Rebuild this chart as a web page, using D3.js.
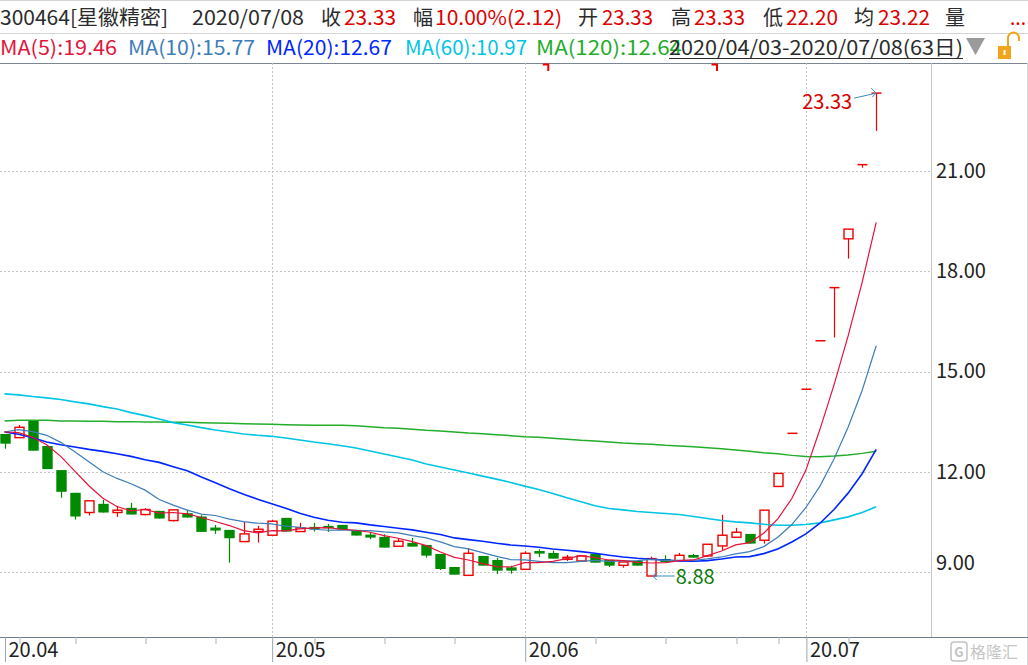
<!DOCTYPE html>
<html><head><meta charset="utf-8">
<script src="https://cdn.jsdelivr.net/npm/d3@7"></script>
<style>html,body{margin:0;padding:0;background:#fff}svg{display:block}</style>
</head><body>
<svg id="chart" width="1028" height="665"></svg>
<script>
// ---------------- DATA ----------------
const dates = [
 "2020-04-03","2020-04-07","2020-04-08","2020-04-09","2020-04-10","2020-04-13","2020-04-14","2020-04-15","2020-04-16","2020-04-17",
 "2020-04-20","2020-04-21","2020-04-22","2020-04-23","2020-04-24","2020-04-27","2020-04-28","2020-04-29","2020-04-30",
 "2020-05-06","2020-05-07","2020-05-08","2020-05-11","2020-05-12","2020-05-13","2020-05-14","2020-05-15",
 "2020-05-18","2020-05-19","2020-05-20","2020-05-21","2020-05-22","2020-05-25","2020-05-26","2020-05-27","2020-05-28","2020-05-29",
 "2020-06-01","2020-06-02","2020-06-03","2020-06-04","2020-06-05","2020-06-08","2020-06-09","2020-06-10","2020-06-11","2020-06-12",
 "2020-06-15","2020-06-16","2020-06-17","2020-06-18","2020-06-19","2020-06-22","2020-06-23","2020-06-24","2020-06-29","2020-06-30",
 "2020-07-01","2020-07-02","2020-07-03","2020-07-06","2020-07-07","2020-07-08"];
const open = [13.13,13.02,13.52,12.77,12.05,11.37,10.78,11.04,10.78,10.92,
 10.72,10.83,10.54,10.76,10.66,10.33,10.26,9.91,10.21,10.10,
 10.62,10.21,10.35,10.38,10.41,10.26,10.12,10.05,9.77,9.87,
 9.81,9.54,9.15,8.90,9.48,9.36,9.14,9.08,9.63,9.57,
 9.38,9.33,9.54,9.36,9.20,9.33,8.88,9.39,9.34,9.51,
 9.48,9.78,10.04,10.14,9.95,11.56,13.15,14.47,15.92,17.51,
 18.97,21.19,23.33];
const high = [13.13,13.40,13.52,12.80,12.05,11.37,11.13,11.16,10.98,11.07,
 10.91,10.83,10.86,10.86,10.70,10.41,10.26,10.50,10.38,10.56,
 10.62,10.47,10.47,10.44,10.41,10.26,10.20,10.13,10.01,10.02,
 9.81,9.54,9.15,9.71,9.48,9.42,9.19,9.62,9.68,9.64,
 9.51,9.51,9.54,9.36,9.30,9.33,9.46,9.50,9.57,9.54,
 9.83,10.71,10.32,10.14,10.85,11.95,13.15,14.47,15.92,17.51,
 19.26,21.19,23.33];
const low = [12.69,13.02,12.63,12.08,11.22,10.57,10.69,10.78,10.65,10.72,
 10.69,10.60,10.51,10.63,10.20,10.14,9.28,9.91,9.88,10.10,
 10.21,10.21,10.21,10.20,10.27,10.09,9.98,9.73,9.77,9.76,
 9.43,9.06,8.92,8.90,9.19,8.94,8.95,9.08,9.45,9.40,
 9.33,9.33,9.28,9.15,9.13,9.19,8.88,9.30,9.34,9.43,
 9.45,9.66,10.04,9.85,9.85,11.56,13.15,14.47,15.92,16.02,
 18.38,21.10,22.20];
const close = [12.84,13.33,12.63,12.08,11.40,10.66,11.13,10.78,10.85,10.72,
 10.87,10.60,10.86,10.63,10.20,10.24,10.01,10.14,10.28,10.52,
 10.21,10.32,10.27,10.31,10.27,10.09,10.03,9.73,9.92,9.76,
 9.49,9.09,8.92,9.56,9.19,9.04,9.04,9.56,9.55,9.40,
 9.44,9.48,9.28,9.19,9.30,9.19,9.40,9.30,9.50,9.43,
 9.83,10.10,10.19,9.85,10.85,11.95,13.15,14.47,15.92,17.51,
 19.26,21.19,23.33];
const ma5 = [13.19,13.17,13.03,12.81,12.46,12.02,11.58,11.21,10.96,10.83,
 10.87,10.76,10.78,10.74,10.63,10.51,10.39,10.24,10.17,10.24,
 10.23,10.29,10.32,10.33,10.28,10.25,10.19,10.09,10.01,9.91,
 9.79,9.60,9.44,9.36,9.25,9.16,9.15,9.28,9.28,9.32,
 9.40,9.49,9.43,9.36,9.34,9.29,9.27,9.28,9.34,9.36,
 9.49,9.63,9.81,9.88,10.16,10.59,11.20,12.05,13.27,14.60,
 16.06,17.67,19.46];
const ma10 = [13.19,13.26,13.20,13.09,12.88,12.60,12.30,12.00,11.80,11.64,
 11.45,11.17,11.00,10.85,10.73,10.69,10.58,10.51,10.46,10.44,
 10.37,10.34,10.28,10.25,10.26,10.24,10.24,10.20,10.17,10.09,
 10.02,9.90,9.76,9.69,9.58,9.47,9.37,9.36,9.32,9.28,
 9.28,9.32,9.35,9.32,9.33,9.34,9.38,9.35,9.35,9.35,
 9.39,9.45,9.54,9.61,9.76,10.04,10.42,10.93,11.57,12.38,
 13.33,14.43,15.77];
const ma20 = [13.19,13.12,13.02,12.89,12.81,12.74,12.67,12.61,12.54,12.46,
 12.36,12.28,12.15,12.03,11.84,11.67,11.49,11.33,11.18,11.04,
 10.91,10.76,10.64,10.55,10.49,10.47,10.41,10.36,10.31,10.26,
 10.19,10.12,10.02,9.97,9.92,9.86,9.81,9.78,9.74,9.69,
 9.65,9.61,9.56,9.50,9.45,9.41,9.38,9.36,9.33,9.32,
 9.34,9.39,9.45,9.46,9.55,9.69,9.90,10.14,10.46,10.87,
 11.36,11.94,12.67];
const ma60 = [14.33,14.30,14.25,14.21,14.16,14.09,14.03,13.95,13.88,13.77,
 13.68,13.58,13.47,13.40,13.32,13.25,13.19,13.13,13.09,13.06,
 13.01,12.95,12.89,12.84,12.78,12.71,12.62,12.53,12.44,12.35,
 12.23,12.14,12.05,11.96,11.87,11.78,11.68,11.57,11.47,11.35,
 11.22,11.10,10.98,10.90,10.86,10.81,10.78,10.75,10.72,10.66,
 10.60,10.54,10.50,10.47,10.43,10.40,10.40,10.42,10.47,10.56,
 10.65,10.78,10.95];
const ma120 = [13.52,13.54,13.54,13.54,13.52,13.52,13.51,13.51,13.50,13.50,
 13.49,13.49,13.48,13.48,13.47,13.46,13.45,13.44,13.43,13.42,
 13.41,13.40,13.39,13.39,13.39,13.38,13.35,13.32,13.30,13.27,
 13.24,13.22,13.19,13.16,13.14,13.11,13.08,13.05,13.03,13.00,
 12.97,12.94,12.92,12.89,12.86,12.84,12.82,12.79,12.77,12.75,
 12.72,12.69,12.65,12.61,12.57,12.54,12.49,12.46,12.45,12.47,
 12.50,12.55,12.61];

const maNames = ["MA(5)","MA(10)","MA(20)","MA(60)","MA(120)"];
const maHeaderValues = ["19.46","15.77","12.67","10.97","12.64"];
const header1Texts = ["300464[星徽精密]","2020/07/08","收","23.33","幅","10.00%(2.12)","开","23.33","高","23.33","低","22.20","均","23.22","量","..."];
const rangeText = "2020/04/03-2020/07/08(63日)";
const yTicks = [21, 18, 15, 12, 9];
const yTickLabels = ["21.00","18.00","15.00","12.00","9.00"];
const monthStarts = ["2020-04-03","2020-05-06","2020-06-01","2020-07-01"];
const monthLabels = ["20.04","20.05","20.06","20.07"];
const weekStarts = ["2020-04-07","2020-04-13","2020-04-20","2020-04-27","2020-05-11","2020-05-18","2020-05-25","2020-06-08","2020-06-15","2020-06-22","2020-06-29","2020-07-06"];
const markerDates = ["2020-06-02","2020-06-18"];
const watermarkText = "格隆汇";

// ---------------- LAYOUT / STYLE ----------------
const FONT = "'Noto Sans CJK SC','Noto Sans',sans-serif";
const RED = "#f00000", GREEN = "#008a00", DARK = "#2b2b2b", VALRED = "#dd0000";
const maColors = ["#e3143c","#3d7db8","#0026ff","#00c5e3","#23ad2b"];
const maWidths = [1.2, 1.2, 1.6, 1.6, 1.5];
const plotTop = 63, plotBottom = 637, plotRight = 931;

const svg = d3.select("#chart");
svg.append("rect").attr("width",1028).attr("height",665).attr("fill","#fff");

const x = d3.scalePoint().domain(dates).range([4.5, 876.2]);
const y = d3.scaleLinear().domain([9, 21]).range([572, 171]);

// header separators
svg.append("line").attr("x1",0).attr("x2",1028).attr("y1",0.5).attr("y2",0.5).attr("stroke","#d4d4d4");
svg.append("line").attr("x1",0).attr("x2",1028).attr("y1",33.5).attr("y2",33.5).attr("stroke","#d4d4d4");

// header row 1
const h1X = [0,192,321,344,413,435,578,602,671,694,763,786,854,878,945,1010];
const h1W = [168,112,19,52,19,127,21,51,20,51,20,52,19,52,21,16];
header1Texts.forEach((t,i)=>{
  const col = (i < 3) ? DARK : (i % 2 === 1 ? VALRED : DARK);
  const tx = svg.append("text").attr("x",h1X[i]).attr("y",24.5).text(t)
    .attr("font-family",FONT).attr("font-size",20).attr("fill",col);
  if (t.length > 1) tx.attr("textLength",h1W[i]).attr("lengthAdjust","spacingAndGlyphs");
});

// header row 2: MA legend
const h2X = [0,128,266,405,536];
const h2W = [117,127,126,122,146];
maNames.forEach((n,i)=>{
  svg.append("text").attr("x",h2X[i]).attr("y",55).text(n+":"+maHeaderValues[i])
    .attr("font-family",FONT).attr("font-size",20).attr("fill",maColors[i])
    .attr("textLength",h2W[i]).attr("lengthAdjust","spacingAndGlyphs");
});
svg.append("text").attr("x",669).attr("y",55).text(rangeText)
  .attr("font-family",FONT).attr("font-size",20).attr("fill",DARK)
  .attr("textLength",294).attr("lengthAdjust","spacingAndGlyphs");
svg.append("line").attr("x1",669).attr("x2",963).attr("y1",58.5).attr("y2",58.5).attr("stroke",DARK).attr("stroke-width",1);
// dropdown triangle
svg.append("path").attr("d","M966,38 L985,38 L975.5,55 Z").attr("fill","#9a9a9a");
// lock icon
svg.append("rect").attr("x",998).attr("y",46).attr("width",13).attr("height",13).attr("fill","#f2a41c");
svg.append("rect").attr("x",1003.5).attr("y",50).attr("width",2).attr("height",5).attr("fill","#fff");
svg.append("path").attr("d","M1008,46 L1008,38 A5.5,5.5 0 0 1 1019,38 L1019,41").attr("fill","none").attr("stroke","#f2a41c").attr("stroke-width",2);

// plot top border
svg.append("line").attr("x1",0).attr("x2",1028).attr("y1",plotTop+0.5).attr("y2",plotTop+0.5).attr("stroke","#7a8896").attr("stroke-width",1.2);

// event markers
markerDates.forEach(d=>{
  const cx = x(d);
  svg.append("path").attr("d",`M${cx+4},${plotTop+1.5} H${cx+9.5} V${plotTop+8}`)
    .attr("fill","none").attr("stroke",RED).attr("stroke-width",2);
});

// gridlines
const grid = svg.append("g");
grid.selectAll(".hg").data(yTicks).join("line")
  .attr("x1",0).attr("x2",plotRight).attr("y1",d=>Math.round(y(d))+0.5).attr("y2",d=>Math.round(y(d))+0.5)
  .attr("stroke","#c4c4c4").attr("stroke-dasharray","2,2");
grid.selectAll(".vg").data(monthStarts.slice(1)).join("line")
  .attr("x1",d=>Math.round(x(d))+0.5).attr("x2",d=>Math.round(x(d))+0.5).attr("y1",plotTop).attr("y2",plotBottom)
  .attr("stroke","#c4c4c4").attr("stroke-dasharray","2,2");

// right border
svg.append("line").attr("x1",plotRight+0.5).attr("x2",plotRight+0.5).attr("y1",plotTop).attr("y2",plotBottom).attr("stroke","#c6c6c6");
svg.append("line").attr("x1",1027.5).attr("x2",1027.5).attr("y1",plotTop).attr("y2",665).attr("stroke","#d8d8d8");

// y axis
const gy = svg.append("g").attr("transform",`translate(${plotRight},0)`)
  .call(d3.axisRight(y).tickValues(yTicks).tickFormat((d,i)=>yTickLabels[i]).tickSize(0).tickPadding(5));
gy.select(".domain").remove();
gy.selectAll("text").attr("font-family",FONT).attr("font-size",20).attr("fill","#222");
gy.selectAll(".tick").filter(d=>d===9).select("text").attr("dy","-0.13em");

// x axis
svg.append("line").attr("x1",0).attr("x2",1028).attr("y1",plotBottom+0.5).attr("y2",plotBottom+0.5).attr("stroke","#6f7e8c").attr("stroke-width",1.2);
const gxw = svg.append("g").attr("transform",`translate(0.5,${plotBottom})`)
  .call(d3.axisBottom(x).tickValues(weekStarts).tickFormat("").tickSize(7));
gxw.select(".domain").remove();
gxw.selectAll("line").attr("stroke","#a9b3bc").attr("transform",d=>`translate(${Math.round(x(d))-x(d)},0)`);
const gx = svg.append("g").attr("transform",`translate(0.5,${plotBottom})`)
  .call(d3.axisBottom(x).tickValues(monthStarts).tickFormat((d,i)=>monthLabels[i]).tickSize(25));
gx.select(".domain").remove();
gx.selectAll("line").attr("stroke","#9aa6b0");
gx.selectAll("text").attr("font-family",FONT).attr("font-size",20).attr("fill","#222")
  .attr("text-anchor","start").attr("x",3).attr("y",6).attr("dy","0.71em");

// candles
const idx = d3.range(dates.length);
const isUp = i => close[i] > open[i] || (close[i] === open[i] && (i === 0 || close[i] >= close[i-1]));
const cg = svg.append("g");
idx.forEach(i=>{
  const cx = Math.round(x(dates[i])) + 0.5;
  const yo = y(open[i]), yc = y(close[i]), yh = y(high[i]), yl = y(low[i]);
  const top = Math.min(yo,yc), bot = Math.max(yo,yc);
  if (isUp(i)) {
    if (bot - top < 1.5) {
      cg.append("line").attr("x1",cx).attr("x2",cx).attr("y1",yh).attr("y2",yl).attr("stroke",RED).attr("stroke-width",1.2);
      cg.append("line").attr("x1",cx-5).attr("x2",cx+5).attr("y1",yc).attr("y2",yc).attr("stroke",RED).attr("stroke-width",1.5);
    } else {
      if (yh < top) cg.append("line").attr("x1",cx).attr("x2",cx).attr("y1",yh).attr("y2",top).attr("stroke",RED).attr("stroke-width",1.2);
      if (yl > bot) cg.append("line").attr("x1",cx).attr("x2",cx).attr("y1",bot).attr("y2",yl).attr("stroke",RED).attr("stroke-width",1.2);
      cg.append("rect").attr("x",cx-4.5).attr("y",top).attr("width",9).attr("height",bot-top)
        .attr("fill","#fff").attr("stroke",RED).attr("stroke-width",1.4);
    }
  } else {
    cg.append("line").attr("x1",cx).attr("x2",cx).attr("y1",yh).attr("y2",yl).attr("stroke",GREEN).attr("stroke-width",1.2);
    cg.append("rect").attr("x",cx-5.2).attr("y",top).attr("width",10.4).attr("height",Math.max(1.5,bot-top)).attr("fill",GREEN);
  }
});

// MA lines
const maSeries = [ma5, ma10, ma20, ma60, ma120];
const line = d3.line().x((d,i)=>x(dates[i])).y(d=>y(d));
[4,3,2,1,0].forEach(k=>{
  svg.append("path").attr("d",line(maSeries[k])).attr("fill","none")
    .attr("stroke",maColors[k]).attr("stroke-width",maWidths[k]);
});

// high / low annotations
const ARROW = "#3a8fc0";
const hi = d3.maxIndex(high), lo = d3.minIndex(low);
const hx = x(dates[hi]), hy = y(high[hi]);
svg.append("line").attr("x1",hx-22).attr("y1",hy+5).attr("x2",hx).attr("y2",hy).attr("stroke",ARROW).attr("stroke-width",1);
svg.append("path").attr("d",`M${hx-5},${hy-5} L${hx},${hy} L${hx-4},${hy+4}`).attr("fill","none").attr("stroke",ARROW).attr("stroke-width",1);
svg.append("text").attr("x",hx-24).attr("y",hy+16).attr("text-anchor","end").text(high[hi].toFixed(2))
  .attr("font-family",FONT).attr("font-size",20).attr("fill","#d40000");
const lx = x(dates[lo]) + 1.5, ly = y(low[lo]);
svg.append("line").attr("x1",lx).attr("y1",ly).attr("x2",lx+22).attr("y2",ly).attr("stroke",ARROW).attr("stroke-width",1);
svg.append("path").attr("d",`M${lx+4},${ly-4} L${lx},${ly} L${lx+4},${ly+4}`).attr("fill","none").attr("stroke",ARROW).attr("stroke-width",1);
svg.append("text").attr("x",lx+23).attr("y",ly+8).text(low[lo].toFixed(2))
  .attr("font-family",FONT).attr("font-size",20).attr("fill","#0a7d0a");

// watermark
svg.append("rect").attr("x",951).attr("y",642).attr("width",16).attr("height",19).attr("rx",3)
  .attr("fill","none").attr("stroke","#c2c2c2").attr("stroke-width",1.5);
svg.append("text").attr("x",959).attr("y",657).attr("text-anchor","middle").text("G")
  .attr("font-family",FONT).attr("font-size",13).attr("font-weight","bold").attr("fill","#c2c2c2");
svg.append("text").attr("x",970).attr("y",658).text(watermarkText)
  .attr("font-family",FONT).attr("font-size",16).attr("fill","#c6c6c6");
</script>
</body></html>
